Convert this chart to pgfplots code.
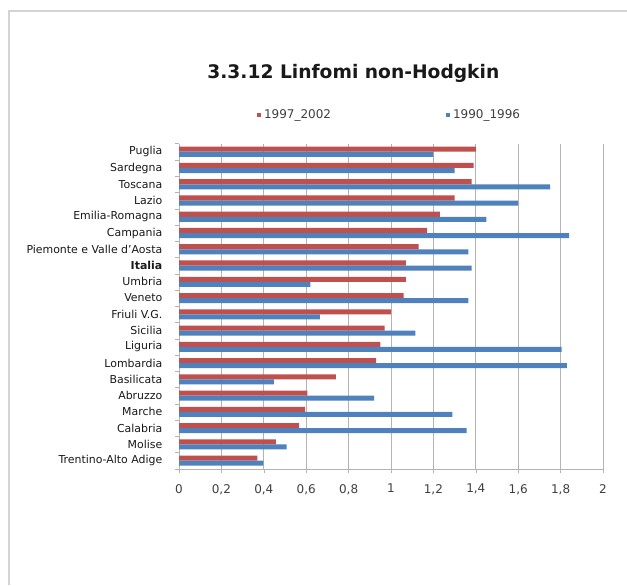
\documentclass[border=0pt]{standalone}
\usepackage{fontspec}
\setmainfont{DejaVu Sans}
\usepackage{pgfplots}
\pgfplotsset{compat=1.18}
\definecolor{serA}{HTML}{C0504D}
\definecolor{serB}{HTML}{4F81BD}
\definecolor{gridc}{HTML}{B4B4B4}
\definecolor{framec}{HTML}{D4D4D4}
\begin{document}
\begin{tikzpicture}
% page 627x585 px, 1px = 0.75pt
\path[use as bounding box, fill=white] (0,0) rectangle (470.25pt,-438.75pt);
\draw[framec, line width=1.5pt] (6.75pt,-438.75pt) -- (6.75pt,-8.25pt) -- (470.25pt,-8.25pt);
\node[anchor=west, font=\fontsize{14}{16}\selectfont\bfseries, text=black!90] at (152pt,-54.75pt) {3.3.12 Linfomi non-Hodgkin};
\begin{axis}[
    at={(134.25pt,-351.6pt)}, anchor=south west,
    scale only axis, width=318pt, height=243.9pt,
    xbar, bar width=3.8pt,
    xmin=0, xmax=2, ymin=-0.5, ymax=19.5,
    y dir=reverse,
    axis lines*=left,
    axis line style={gridc},
    xtick={0,0.2,...,2},
    /pgf/number format/fixed,
    /pgf/number format/use comma,
    /pgf/number format/assume math mode=true,
    xmajorgrids, major grid style={gridc, line width=0.6pt},
    tick align=outside, major tick length=3pt, minor tick length=3pt,
    major x tick style={gridc},
    ytick={0,...,19},
    major y tick style={draw=none},
    minor ytick={-0.5,0.5,...,19.5},
    minor y tick style={gridc},
    yticklabels={Puglia, Sardegna, Toscana, Lazio, Emilia-Romagna, Campania, Piemonte e Valle d'Aosta, \textbf{Italia}, Umbria, Veneto, Friuli V.G., Sicilia, Liguria, Lombardia, Basilicata, Abruzzo, Marche, Calabria, Molise, Trentino-Alto Adige},
    yticklabel style={font=\fontsize{8.2}{9}\selectfont, text=black!90, xshift=-6pt},
    xticklabel style={font=\fontsize{9}{10}\selectfont, text=black!75, yshift=-5pt},
    legend columns=2,
    legend style={at={(0.183,1.088)}, anchor=west, draw=none, fill=none, inner sep=0pt,
        font=\fontsize{9}{10}\selectfont, text=black!75,
        /tikz/every even column/.append style={column sep=84pt}},
    legend image code/.code={\fill[#1] (0pt,-1.7pt) rectangle (3.4pt,1.7pt);},
]
\addplot[fill=serA, draw=none, bar shift=1.9pt] coordinates {
(1.40,0) (1.39,1) (1.38,2) (1.30,3) (1.23,4) (1.17,5) (1.13,6) (1.07,7) (1.07,8) (1.06,9)
(1.00,10) (0.97,11) (0.95,12) (0.93,13) (0.74,14) (0.605,15) (0.595,16) (0.567,17) (0.457,18) (0.37,19)
};
\addplot[fill=serB, draw=none, bar shift=-1.9pt] coordinates {
(1.20,0) (1.30,1) (1.75,2) (1.60,3) (1.45,4) (1.84,5) (1.365,6) (1.38,7) (0.62,8) (1.365,9)
(0.665,10) (1.115,11) (1.805,12) (1.83,13) (0.448,14) (0.92,15) (1.29,16) (1.357,17) (0.508,18) (0.398,19)
};
\legend{1997\_2002, 1990\_1996}
\end{axis}
\end{tikzpicture}
\end{document}
